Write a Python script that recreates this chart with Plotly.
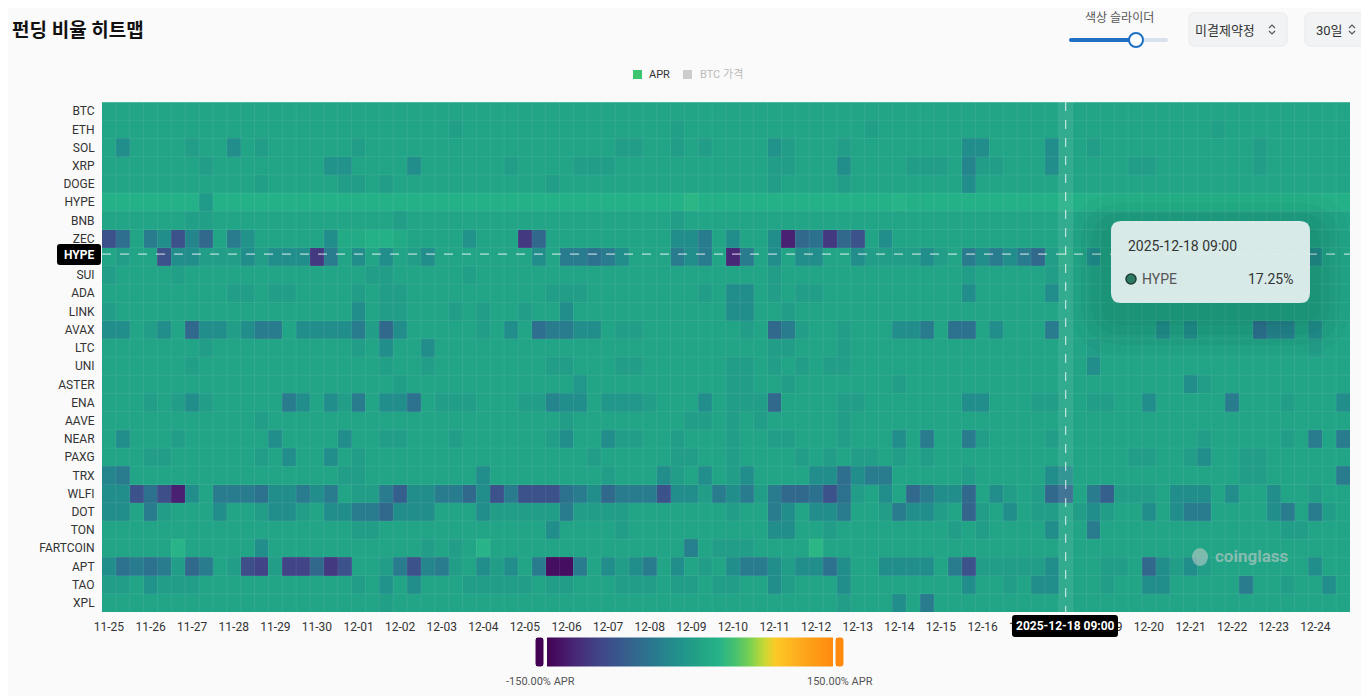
import plotly.graph_objects as go

# funding rate heatmap: 28 coins x 90 slots (3 per day, 30 days), APR in %
symbols = ["BTC", "ETH", "SOL", "XRP", "DOGE", "HYPE", "BNB", "ZEC", "HYPE", "SUI",
           "ADA", "LINK", "AVAX", "LTC", "UNI", "ASTER", "ENA", "AAVE", "NEAR", "PAXG",
           "TRX", "WLFI", "DOT", "TON", "FARTCOIN", "APT", "TAO", "XPL"]

day_labels = ["11-25", "11-26", "11-27", "11-28", "11-29", "11-30",
              "12-01", "12-02", "12-03", "12-04", "12-05", "12-06", "12-07", "12-08",
              "12-09", "12-10", "12-11", "12-12", "12-13", "12-14", "12-15", "12-16",
              "12-17", "12-18", "12-19", "12-20", "12-21", "12-22", "12-23", "12-24"]
slots_per_day = 3

apr_btc = [11] * 90
apr_eth = [11, 11, 11, 11, 11, 11, 11, 11, 11, 11, 11, 11, 11, 11, 11, 11, 11, 11, 11, 11,
           11, 11, 11, 11, 11, 5, 11, 11, 11, 11, 11, 11, 11, 11, 11, 11, 11, 11, 11, 11,
           11, 5, 11, 11, 11, 11, 11, 11, 11, 11, 11, 11, 11, 11, 11, 5, 11, 11, 11, 11,
           11, 11, 11, 11, 11, 11, 11, 11, 11, 11, 11, 11, 11, 11, 11, 11, 11, 11, 11, 11,
           5, 11, 11, 11, 11, 11, 11, 11, 11, 11]
apr_sol = [11, -15, 11, 11, 11, 11, 3, 11, 11, -15, 11, 3, 11, 11, 11, 11, 11, 11, 3, 11,
           11, 11, 11, 11, 11, 11, 11, 11, 11, 11, 11, 11, 11, 11, 11, 11, 11, 3, 3, 11,
           11, 3, 11, 3, 11, 11, 11, 11, -10, 3, 11, 11, 11, 3, 11, 11, 11, 11, 11, 11,
           11, 11, -15, -15, 11, 11, 11, 11, -15, 11, 11, 3, 11, 11, 11, 11, 11, 11, 11, 11,
           11, 11, 11, 3, 11, 11, 11, 11, 11, 11]
apr_xrp = [11, 11, 11, 11, 11, 11, 11, 3, 11, 11, 11, 11, 11, 11, 11, 11, -10, -10, 11, 11,
           11, 11, -15, 11, 11, 11, 11, 11, 11, 3, 11, 11, 11, 11, 3, 3, 3, 11, 11, 11,
           11, 11, 11, 11, 11, 11, 11, 11, 3, 3, 11, 11, 11, -15, 11, 11, 11, 11, 3, 3,
           3, 11, -25, 3, 3, 11, 11, 11, -15, 11, 11, 11, 11, 11, 3, 3, 11, 11, 11, 11,
           11, 11, 11, 3, 11, 11, 11, 11, 11, 11]
apr_doge = [11, 11, 11, 11, 11, 11, 11, 11, 11, 11, 11, 5, 11, 11, 11, 11, 11, 3, 3, 11,
            3, 11, 11, 11, 11, 11, 11, 11, 11, 11, 11, 11, 3, 11, 11, 11, 11, 11, 11, 11,
            11, 11, 11, 11, 11, 11, 11, 11, 3, 11, 11, 11, 11, 3, 11, 11, 11, 11, 11, 11,
            11, 11, -15, 11, 11, 11, 11, 11, 11, 11, 11, 11, 11, 11, 11, 11, 11, 11, 11, 11,
            11, 11, 11, 11, 11, 11, 11, 11, 11, 11]
apr_hype = [28, 28, 28, 28, 28, 28, 28, 0, 28, 28, 28, 28, 28, 28, 28, 28, 28, 28, 28, 28,
            28, 28, 28, 28, 28, 28, 28, 28, 28, 28, 28, 28, 28, 28, 28, 28, 28, 28, 28, 28,
            28, 28, 33, 28, 28, 28, 28, 28, 28, 28, 28, 28, 28, 28, 28, 28, 28, 31, 28, 28,
            28, 28, 28, 28, 28, 28, 28, 28, 28, 28, 28, 28, 28, 28, 28, 28, 28, 28, 28, 28,
            28, 28, 28, 28, 28, 28, 28, 28, 28, 28]
apr_bnb = [11, 11, 11, 11, 11, 11, 5, 5, 11, 11, 11, 11, 11, 11, 11, 11, 11, 11, 11, 11,
           11, 3, 11, 11, 11, 11, 11, 11, 11, 11, 11, 11, 11, 11, 11, 11, 11, 11, 11, 11,
           11, 3, 11, 11, 11, 11, 11, 11, 11, 11, 11, 11, 11, 11, 11, 11, 11, 11, 11, 11,
           11, 11, 11, 11, 11, 11, 11, 11, 11, 11, 11, 11, 11, 11, 11, 11, 11, 11, 11, 11,
           11, 11, 11, 11, 11, 11, 11, 11, 11, 11]
apr_zec = [-80, -50, 11, -35, -15, -80, -25, -55, 11, -35, -10, 11, 11, 11, 11, 11, -15, 20, 20, 28,
           28, 20, 11, 11, 11, 11, -10, 11, 11, 11, -105, -55, 11, 11, 11, 11, 11, 11, 11, 11,
           11, -15, -15, -35, 11, -15, 11, 11, -15, -125, -55, -45, -105, -55, -80, 11, -15, 11, 11, 11,
           11, 11, 11, 11, 11, 11, 11, 11, 11, 11, 11, 11, 11, 11, 11, 11, 11, 11, 11, 11,
           11, 11, 11, 11, 11, 11, 11, 11, 11, 11]
apr_hype_2 = [11, 3, 11, 11, -80, -15, -15, 3, 3, 3, -15, 3, -15, -15, -15, -105, -35, 11, -15, 11,
              -15, 11, 3, -15, 11, 11, 11, 11, 11, 11, 11, -15, 11, -35, -35, -45, -35, -15, 11, 11,
              11, -35, -15, -35, 11, -120, -35, 11, -15, 11, -15, -15, 11, 11, -15, 3, 3, 3, 3, -15,
              3, 11, -35, -15, -35, -15, -35, -55, 3, 17.25, 11, -15, 11, 11, 11, 11, 11, 11, 11, 11,
              11, 11, 11, 11, 11, 11, 11, -15, 11, 11]
apr_sui = [3, 11, 11, 11, 11, 5, 11, 11, 11, 11, 11, 11, 11, 11, 11, 11, 11, 11, 11, 3,
           3, 11, 11, 11, 11, 11, 5, 11, 11, 11, 11, 11, 11, 11, 11, 11, 11, 11, 11, 11,
           11, 11, 11, 11, 11, 11, 11, 11, 3, 11, 11, 11, 11, 11, 11, 11, 11, 11, 11, 11,
           11, 11, 3, 11, 11, 11, 11, 11, 3, 11, 11, 11, 11, 11, 11, 11, 11, 11, 11, 11,
           11, 11, 11, 11, 11, 11, 11, 11, 11, 11]
apr_ada = [11, 11, 11, 11, 11, 11, 11, 11, 11, 3, 3, 11, 3, 3, 11, 11, 11, 11, 3, 11,
           3, 3, 11, 11, 11, 11, 11, 11, 11, 11, 11, 11, 3, 3, 3, 11, 11, 11, 11, 11,
           11, 11, 11, 3, 11, -15, -15, 11, 3, 11, 3, 3, 11, 11, 11, 11, 11, 11, 11, 11,
           11, 11, -15, 11, 11, 11, 11, 11, -15, 11, 11, 11, 11, 11, 11, 11, 11, 11, 11, 11,
           11, 11, 11, 11, 11, 11, 11, 11, 11, 11]
apr_link = [3, 11, 11, 11, 11, 11, 11, 11, 11, 11, 11, 11, 11, 11, 11, 11, 11, 11, -15, 11,
            3, 3, 11, 11, 11, 3, 11, 3, 11, 11, 3, 11, 11, -15, 11, 11, 11, 11, 11, 11,
            11, 11, 11, 11, 11, -15, -15, 11, 11, 3, 11, 11, 11, 11, 11, 11, 11, 11, 11, 11,
            11, 11, 11, 11, 11, 11, 11, 11, 11, 11, 11, 11, 11, 11, 11, 11, 11, 11, 11, 11,
            11, 11, 11, 11, 11, 11, 11, 11, 11, 11]
apr_avax = [-15, -15, 11, 3, -15, 11, -55, -15, -15, 3, -15, -35, -35, 11, -15, -15, -15, -15, -35, 3,
            -55, -15, 11, 11, 11, 11, 11, 3, 11, -15, 11, -50, -35, -35, -15, -15, 11, 3, 3, 11,
            11, 11, 11, 11, 11, 11, 3, 11, -55, -35, 3, 11, 11, 3, 11, 11, 11, -15, -15, -35,
            11, -45, -45, 11, -15, 11, 11, 11, -35, 11, 11, 11, 11, 11, 11, 11, -15, 11, -15, 11,
            11, 11, 11, -45, -25, -25, 11, -15, 11, 11]
apr_ltc = [11, 11, 11, 11, 11, 11, 11, 3, 11, 11, 11, 11, 11, 11, 11, 11, 11, 11, 3, 11,
           -15, 11, 11, -15, 11, 11, 11, 11, 11, 11, 11, 11, 11, 11, 11, 11, 11, 11, 11, 11,
           11, 11, 11, 11, 11, 11, 11, 11, 3, 3, 11, 11, 11, 3, 11, 11, 11, 11, 11, 11,
           11, 11, 11, 11, 11, 11, 11, 11, 11, 11, 11, 3, 11, 11, 11, 11, 11, 11, 11, 11,
           11, 11, 11, 11, 11, 11, 11, 3, 11, 11]
apr_uni = [11, 11, 11, 11, 11, 11, 5, 11, 11, 11, 11, 11, 11, 11, 11, 11, 11, 11, 11, 11,
           5, 11, 11, 3, 11, 11, 11, 11, 11, 11, 11, 11, 3, 3, 11, 11, 11, 3, 3, 11,
           11, 11, 11, 11, 11, 3, 3, 11, 3, 11, 3, 11, 3, 3, 11, 11, 11, 11, 11, 11,
           11, 11, 11, 11, 11, 11, 11, 11, 11, 11, 11, -15, 11, 11, 11, 11, 11, 11, 11, 11,
           11, 11, 11, 11, 11, 11, 11, 11, 11, 11]
apr_aster = [11, 11, 11, 11, 11, 11, 11, 11, 11, 11, 11, 11, 11, 11, 11, 11, 11, 11, 11, 11,
             11, 5, 11, 11, 11, 11, 11, 11, 11, 11, 11, 11, 11, 11, -5, 11, 11, 11, 11, 11,
             11, 11, 11, 11, 11, 3, 3, 11, 11, 3, 11, 11, 11, 11, 11, 11, 11, 3, 11, 11,
             11, 11, 11, 11, 11, 11, 11, 11, 11, 11, 11, 11, 11, 11, 11, 11, 11, 11, -15, 3,
             11, 11, 11, 11, 11, 11, 11, 11, 11, 11]
apr_ena = [11, 11, 11, 3, 11, 3, -15, 3, 11, 11, 11, 11, 11, -35, -15, 11, -15, 3, -35, 11,
           -15, -15, -45, 11, 3, 3, 3, 11, 11, 11, 3, 3, -25, -15, -15, 11, -5, -5, -5, 3,
           11, 11, 11, -15, 11, 3, 3, 3, -55, 11, 11, 11, 11, 3, 3, 11, 11, 11, 11, 11,
           11, 11, -15, -15, 11, 11, 11, 3, 3, 11, 11, 3, 3, 11, 11, -15, 11, 11, 11, 11,
           11, -35, 11, 11, 11, 3, 11, 11, 11, -15]
apr_aave = [11, 11, 11, 11, 11, 11, 11, 11, 11, 11, 11, 3, 11, 11, 11, 11, 11, 11, 11, 11,
            11, 11, 11, 11, 11, 11, 11, 11, 11, 11, 11, 11, 11, 3, 11, 11, 11, 11, 11, 11,
            11, 11, 3, 3, 11, 3, 11, 3, 11, 11, 11, 11, 11, 3, 11, 11, 11, 11, 11, 11,
            11, 11, 11, 11, 11, 11, 11, 11, 11, 11, 11, 11, 11, 11, 11, 11, 11, 11, 11, 11,
            11, 11, 11, 11, 11, 11, 11, 11, 11, 11]
apr_near = [11, -15, 11, 11, 11, 3, 11, 11, 11, 11, 11, 11, -15, 11, 11, 11, 11, -15, 11, 11,
            3, 3, 11, 11, 11, 3, 11, 11, 11, 11, 11, 11, 3, -15, 11, 11, -15, 3, 3, 11,
            11, 3, 11, 11, 11, 3, 11, 11, 3, 3, 11, 11, 11, 3, 11, 11, 11, -15, 11, -35,
            11, 11, -35, 3, 11, 11, 11, 11, 3, 11, 11, 11, 11, 11, 11, 11, 11, 11, 11, 3,
            11, 11, 11, 11, 11, 3, 11, -35, 11, -35]
apr_paxg = [11, 11, 11, 3, 3, 11, 11, 11, 11, 11, 11, 3, 11, -15, 11, 11, -15, 11, 3, 11,
            11, 11, 11, 11, 11, 11, 11, 11, 11, 11, 11, 11, 11, 11, 11, 3, 11, 11, 11, 11,
            11, 3, 3, 11, 11, 3, 11, 11, 11, 11, 3, 11, 3, 11, 3, 3, 11, 3, 11, 3,
            11, 11, 11, 11, 11, 11, 11, 11, 11, 11, 11, 11, 11, 11, 3, 3, 11, 11, 3, -15,
            11, 11, 3, 3, 11, 11, 11, 11, 11, 11]
apr_trx = [-25, -35, 11, 11, 11, 11, 11, 11, 11, 11, 11, 11, 11, 11, 11, 11, 11, 3, 3, 11,
           11, 11, 11, 11, 11, 11, 11, -15, 11, 11, 11, 11, 11, 11, 11, 11, 3, 11, 11, 11,
           -15, 3, 11, -15, 11, 3, -15, 11, 11, 11, 11, -15, -15, -50, -15, -35, -35, 11, 11, 11,
           11, 11, 3, 11, 11, 11, 11, 11, -15, -15, 11, 11, 11, 11, 11, 11, 11, 11, 11, 11,
           11, 11, 3, 3, 11, 11, 11, 11, 11, -35]
apr_wlfi = [-15, -15, -80, -45, -85, -125, -15, 11, -35, -35, -35, -45, -15, -15, -35, -15, -35, 11, 3, 3,
            -35, -65, -15, -15, -35, -35, -55, -15, -80, -35, -80, -80, -80, -45, -35, -15, -55, -35, -35, -35,
            -80, -15, -15, 3, -35, -15, -35, 3, -35, -55, -55, -45, -80, -45, 3, 11, -15, 11, -55, -35,
            -15, -15, -55, 11, -15, 3, 11, 3, -55, -55, 11, -35, -65, 3, 3, 3, 11, -15, -15, -15,
            11, -15, 11, 11, -15, 11, 11, 3, 11, 11]
apr_dot = [-15, -15, 11, -35, 3, 11, 11, 11, -15, 11, 11, 3, -15, -15, 3, 11, -15, -15, -35, -35,
           -55, -15, -15, -15, 11, 11, 11, -15, 3, 3, 3, 3, 3, -35, 3, 3, 3, 3, 11, 11,
           11, 11, 11, 11, 11, 3, 11, 11, -35, -15, 11, -15, -15, -35, 11, 11, 3, -35, -15, -15,
           3, 11, -60, 3, 11, -15, 11, 3, 3, 11, 3, -15, 3, 11, 11, -15, 11, -15, -35, -35,
           11, 11, 11, 11, -15, -35, 11, -35, 3, 11]
apr_ton = [11, 11, 11, 11, 11, 11, 11, 11, 11, 11, 11, 11, 11, 11, 11, 11, 11, 11, 3, 3,
           11, 11, 11, 11, 11, 11, 11, 11, 11, 11, 11, 11, -15, 11, 11, 11, 11, 3, 11, 11,
           11, 11, 11, 11, 11, 11, 11, 11, -15, -15, 11, 11, 3, 11, 11, 11, 11, 11, 11, 11,
           11, 3, 11, 3, 11, 11, 11, 11, -15, 11, 11, -35, 11, 11, 11, 11, 11, 11, 11, 11,
           11, 11, 11, 11, 11, 3, 3, 11, 11, 11]
apr_fartcoin = [11, 11, 11, 11, 11, 31, 11, 11, 11, 11, 11, -15, 11, 11, 11, 11, 11, 11, 11, 11,
                11, 11, 11, 3, 11, 3, 11, 31, 11, 11, 11, 11, 11, 11, 11, 11, 11, 11, 11, 11,
                11, 11, -30, 11, 3, 3, 3, 11, 11, 11, 11, 33, 11, 11, 11, 11, 11, 11, 11, 11,
                11, 11, 11, 11, 11, 11, 11, 11, 11, 11, 11, 11, 11, 11, 11, 11, 11, 11, 11, 11,
                11, 11, 11, 11, 11, 11, 11, 11, 11, 11]
apr_apt = [-15, -45, -35, -45, -35, 3, -55, -35, 11, 3, -85, -95, 3, -95, -95, -55, -105, -80, 11, 11,
           3, -35, -80, -25, -35, 3, 11, -15, 3, -15, 11, -35, -140, -140, -35, 11, -15, 3, -15, -35,
           11, -15, 11, 3, 11, -15, -35, -35, -15, 3, -15, -15, -45, -15, 11, 11, -15, -15, -15, -15,
           11, -35, -80, 3, 3, 3, 3, 3, -15, 11, 11, 11, 3, 3, 11, -55, -15, 3, -15, 3,
           11, 11, 11, 11, 11, 11, 11, -15, 11, 11]
apr_tao = [3, 3, 11, -10, 3, 3, 3, 11, 11, 11, 11, 11, 11, 11, 11, 11, 11, 11, 3, 11,
           -10, 11, -15, 11, 11, 11, 3, 3, 3, 3, 3, 11, 3, 3, 11, 11, 11, 3, 3, 3,
           11, 3, 3, 11, 3, 3, 11, 11, -15, 3, 11, 11, 11, -15, 11, 11, 11, 11, 11, 11,
           11, 11, -15, 11, 11, 3, 11, -15, -15, 11, 11, 11, 3, 11, 11, -15, -15, 11, 11, 11,
           11, 11, -35, 11, 11, 3, 11, 11, -15, 11]
apr_xpl = [11, 11, 11, 11, 11, 11, 11, 11, 11, 11, 11, 11, 11, 11, 11, 11, 11, 11, 11, 11,
           5, 11, 11, 11, 11, 11, 11, 11, 11, 11, 11, 11, 11, 11, 11, 11, 11, 11, 11, 11,
           11, 11, 11, 11, 11, 11, 11, 11, 11, 11, 11, 11, 11, 3, 11, 11, 11, -15, 11, -35,
           11, 11, 11, 11, 11, 11, 11, 11, 11, 11, 11, 11, 11, 11, 11, 11, 11, 11, 11, 11,
           11, 11, 11, 11, 11, 11, 11, 11, 11, 11]

z = [apr_btc, apr_eth, apr_sol, apr_xrp, apr_doge, apr_hype, apr_bnb, apr_zec, apr_hype_2,
     apr_sui, apr_ada, apr_link, apr_avax, apr_ltc, apr_uni, apr_aster, apr_ena, apr_aave,
     apr_near, apr_paxg, apr_trx, apr_wlfi, apr_dot, apr_ton, apr_fartcoin, apr_apt,
     apr_tao, apr_xpl]

hover_col = 69
hover_row = 8
hover_time = "2025-12-18 09:00"

colorscale = [
    [0.0, "#440154"], [0.09, "#482475"], [0.18, "#414487"], [0.28, "#355f8d"],
    [0.37, "#2a788e"], [0.46, "#21918c"], [0.555, "#22a884"], [0.6, "#26b389"],
    [0.66, "#48c16e"], [0.71, "#7ad151"], [0.76, "#c8d835"], [0.8, "#fdc926"],
    [0.9, "#fda51a"], [1.0, "#ff8a0d"],
]

# the page has an 8px body margin, so the figure is drawn 8px smaller
OFF = 8
W, H = 1369 - OFF, 696 - OFF
ML, MR, MT, MB = 102 - OFF, 19, 102 - OFF, 84
PLOT_X0, PLOT_Y0, PLOT_W, PLOT_H = 102, 102, 1248, 510
FONT = "Roboto, Noto Sans CJK KR, sans-serif"


def px(x):
    return (x - PLOT_X0) / PLOT_W


def py(y):
    return (PLOT_Y0 + PLOT_H - y) / PLOT_H


def rrect(x0, y0, x1, y1, r):
    pts = [("M", x0 + r, y0), ("L", x1 - r, y0), ("Q", x1, y0, x1, y0 + r),
           ("L", x1, y1 - r), ("Q", x1, y1, x1 - r, y1), ("L", x0 + r, y1),
           ("Q", x0, y1, x0, y1 - r), ("L", x0, y0 + r), ("Q", x0, y0, x0 + r, y0)]
    out = ""
    for p in pts:
        coords = p[1:]
        s = " ".join(f"{px(coords[i]):.5f},{py(coords[i + 1]):.5f}" for i in range(0, len(coords), 2))
        out += f"{p[0]} {s} "
    return out + "Z"


def pshape(path, fill, line=None, lw=0, layer="above"):
    return dict(type="path", xref="paper", yref="paper", path=path, fillcolor=fill,
                line=dict(color=line or "rgba(0,0,0,0)", width=lw), layer=layer)


def text(x, y, s, size=12, color="#333", anchor="left", weight="normal"):
    return dict(x=px(x), y=py(y), xref="paper", yref="paper", text=s, showarrow=False,
                xanchor=anchor, yanchor="middle",
                font=dict(family=FONT, size=size, color=color, weight=weight))


n_cols = len(apr_btc)
n_rows = len(symbols)

fig = go.Figure(go.Heatmap(
    z=z, x=list(range(n_cols)), y=list(range(n_rows)),
    colorscale=colorscale, zmin=-150, zmax=150, hoverinfo="skip",
    colorbar=dict(orientation="h", x=px(690), xanchor="center", y=py(652), yanchor="middle",
                  lenmode="pixels", len=306, thickness=29, outlinewidth=0,
                  showticklabels=False, ticks=""),
))

shapes = []
# faint cell borders
for k in range(1, n_cols):
    shapes.append(dict(type="line", x0=k - 0.5, x1=k - 0.5, y0=-0.5, y1=n_rows - 0.5,
                       line=dict(color="rgba(255,255,255,0.08)", width=1), layer="above"))
for r in range(1, n_rows):
    shapes.append(dict(type="line", x0=-0.5, x1=n_cols - 0.5, y0=r - 0.5, y1=r - 0.5,
                       line=dict(color="rgba(255,255,255,0.08)", width=1), layer="above"))
shapes.append(dict(type="line", x0=-0.5, x1=n_cols - 0.5, y0=-0.5, y1=-0.5,
                   line=dict(color="rgba(180,240,225,0.6)", width=1), layer="above"))

# hovered column highlight + crosshair
shapes.append(dict(type="rect", x0=hover_col - 0.5, x1=hover_col + 0.5, y0=-0.5, y1=n_rows - 0.5,
                   fillcolor="rgba(255,255,255,0.08)", line=dict(width=0), layer="above"))
shapes.append(dict(type="line", x0=hover_col, x1=hover_col, y0=-0.5, y1=n_rows - 0.5,
                   line=dict(color="rgba(255,255,255,0.85)", width=1, dash="dash"), layer="above"))
shapes.append(dict(type="line", x0=-0.5, x1=n_cols - 0.5, y0=hover_row - 0.15, y1=hover_row - 0.15,
                   line=dict(color="rgba(255,255,255,0.85)", width=1, dash="dash"), layer="above"))

# tooltip shadow + box
for i, a in enumerate([0.025, 0.03, 0.035, 0.04]):
    g = 40 - i * 10
    shapes.append(pshape(rrect(1111 - g, 221 - g + 12, 1310 + g, 303 + g + 12, 12 + g), f"rgba(0,40,30,{a})"))
shapes.append(pshape(rrect(1111, 221, 1310, 303, 10), "rgba(226,238,237,0.95)"))
shapes.append(dict(type="circle", xref="paper", yref="paper", x0=px(1126), x1=px(1136),
                   y0=py(284), y1=py(274), fillcolor="#2d7a62", line=dict(color="#1f3f36", width=1.5),
                   layer="above"))

# axis pointer labels
shapes.append(pshape(rrect(57, 244, 101, 265, 3), "#000"))
shapes.append(pshape(rrect(1012, 615, 1118, 637, 3), "#000"))

# colorbar handles
shapes.append(pshape(rrect(535, 637, 544, 667, 3), "#440154", "#ffffff", 1))
shapes.append(pshape(rrect(835, 637, 844, 667, 3), "#ff8a0d", "#ffffff", 1))

# legend markers
shapes.append(dict(type="rect", xref="paper", yref="paper", x0=px(633), x1=px(642), y0=py(79), y1=py(70),
                   fillcolor="#3cc46e", line=dict(width=0)))
shapes.append(dict(type="rect", xref="paper", yref="paper", x0=px(683), x1=px(692), y0=py(79), y1=py(70),
                   fillcolor="#cccccc", line=dict(width=0)))

# top controls
shapes.append(pshape(rrect(1069, 38, 1168, 42, 2), "#d8e3ee"))
shapes.append(pshape(rrect(1069, 38, 1136, 42, 2), "#1f6fc4"))
shapes.append(dict(type="circle", xref="paper", yref="paper", x0=px(1129), x1=px(1143),
                   y0=py(47), y1=py(33), fillcolor="#ffffff", line=dict(color="#1f6fc4", width=2)))
shapes.append(pshape(rrect(1189, 13, 1287, 46, 6), "#f1f3f5", "#e6e8eb", 1))
shapes.append(pshape(rrect(1305, 13, 1367, 46, 6), "#f1f3f5", "#e6e8eb", 1))
for cx in (1272, 1352):
    for d in (-1, 1):
        path = (f"M {px(cx - 3):.5f},{py(29.5 - d * 1.5):.5f} L {px(cx):.5f},{py(29.5 - d * 4.5):.5f} "
                f"L {px(cx + 3):.5f},{py(29.5 - d * 1.5):.5f}")
        shapes.append(dict(type="path", xref="paper", yref="paper", path=path,
                           line=dict(color="#555", width=1.2)))

# watermark
shapes.append(dict(type="circle", xref="paper", yref="paper", x0=px(1192), x1=px(1208),
                   y0=py(566), y1=py(548), fillcolor="rgba(200,205,205,0.55)", line=dict(width=0)))

annotations = [
    text(10, 30, "펀딩 비율 히트맵", size=19, color="#111", weight="bold"),
    text(1119, 18, "색상 슬라이더", size=12, color="#555", anchor="center"),
    text(1225, 30, "미결제약정", size=13, color="#333", anchor="center"),
    text(1329, 30, "30일", size=13, color="#333", anchor="center"),
    text(647, 75, "APR", size=11, color="#333"),
    text(698, 75, "BTC 가격", size=11, color="#bbbbbb"),
    text(79, 254.5, "HYPE", size=12, color="#fff", anchor="center", weight="bold"),
    text(1065, 626, hover_time, size=12, color="#fff", anchor="center", weight="bold"),
    text(1126, 246, hover_time, size=14, color="#333"),
    text(1140, 279, symbols[hover_row], size=14, color="#555"),
    text(1295, 279, f"{z[hover_row][hover_col]:.2f}%", size=14, color="#333", anchor="right"),
    text(540, 681, "-150.00% APR", size=11, color="#555", anchor="center"),
    text(840, 681, "150.00% APR", size=11, color="#555", anchor="center"),
    text(1213, 556, "coinglass", size=17, color="rgba(200,205,205,0.6)", weight="bold"),
]

# day labels sit under the first slot of each day; the one fully under the pointer label is blank
tick_vals = [i * slots_per_day for i in range(len(day_labels))]
tick_text = [lab if v != hover_col else "" for v, lab in zip(tick_vals, day_labels)]

fig.update_layout(
    width=W, height=H,
    margin=dict(l=ML, r=MR, t=MT, b=MB),
    paper_bgcolor="#fafafa", plot_bgcolor="#fafafa",
    font=dict(family=FONT, size=12, color="#333"),
    shapes=shapes, annotations=annotations,
    showlegend=False,
)
fig.update_xaxes(
    range=[-0.5, n_cols - 0.5], showgrid=False, zeroline=False,
    tickmode="array", tickvals=tick_vals, ticktext=tick_text,
    ticks="outside", ticklen=4, tickcolor="rgba(0,0,0,0)",
    tickfont=dict(size=12, color="#333"),
)
fig.update_yaxes(
    range=[n_rows - 0.5, -0.5], showgrid=False, zeroline=False,
    tickmode="array", tickvals=list(range(n_rows)), ticktext=symbols,
    ticks="outside", ticklen=4, tickcolor="rgba(0,0,0,0)",
    tickfont=dict(size=12, color="#333"),
)

fig.write_html("out.html")
